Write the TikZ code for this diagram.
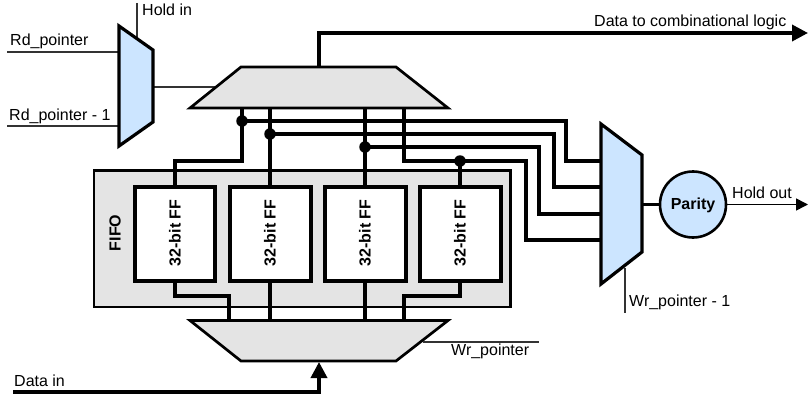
\documentclass[tikz,border=0pt]{standalone}
\usepackage{fontspec}
\setmainfont{Liberation Sans}
\usetikzlibrary{arrows.meta}
\definecolor{muxblue}{HTML}{CCE5FF}
\definecolor{pale}{HTML}{E4E4E4}
\tikzset{
  x=1pt,y=-1pt,
  thinw/.style={draw=black!80,line width=1.4pt},
  bus/.style={draw=black,line width=3.6pt},
  blk/.style={draw=black,line width=3.2pt,line join=miter},
  muxb/.style={blk,fill=muxblue},
  muxg/.style={draw=black,line width=2.7pt,line join=miter,fill=pale},
  ffbox/.style={draw=black,line width=4pt,fill=white,minimum width=80.5pt,minimum height=93.5pt,inner sep=0pt},
  lbl/.style={font=\fontsize{16pt}{18pt}\selectfont,inner sep=0pt},
  blbl/.style={font=\fontsize{16pt}{18pt}\selectfont\bfseries,inner sep=0pt},
  jdot/.style={circle,fill=black,inner sep=0pt,minimum size=11.5pt},
  bigtip/.style={-{Triangle[length=16pt,width=16pt]}},
}
\begin{document}
\begin{tikzpicture}
\useasboundingbox (0,0) rectangle (808,396);
% FIFO
\node[draw=black,line width=2.4pt,fill=pale,minimum width=416.6pt,minimum height=136.6pt,inner sep=0pt,outer sep=0pt] (fifo) at (302,238.8) {};
\node[blbl,rotate=90] (fifolbl) at (115,233) {FIFO};
% wires first so that the shapes cover their ends
\coordinate (rdA) at (7,52);
\coordinate (rdB) at (7,126);
\coordinate (hold) at (137,3);
\coordinate (muxrdA) at (119,52);
\coordinate (muxrdB) at (119,126);
\coordinate (muxrdH) at (137,38);
\coordinate (muxrdO) at (153,87);
\coordinate (muxtopI) at (216,87);
\draw[thinw] (rdA) -- (muxrdA);
\draw[thinw] (rdB) -- (muxrdB);
\draw[thinw] (hold) -- (muxrdH);
\draw[thinw] (muxrdO) -- (muxtopI);
% FF boxes
\node[ffbox] (ffa) at (175,233.8) {};
\node[ffbox] (ffb) at (270.5,233.8) {};
\node[ffbox] (ffc) at (365.5,233.8) {};
\node[ffbox] (ffd) at (460.5,233.8) {};
\foreach \n/\x in {ffa/175,ffb/270,ffc/365,ffd/460}{
  \node[blbl,rotate=90] (\n l) at (\x,233) {32-bit FF};
}
% junctions and tap coordinates
\coordinate (tapa) at (242,108);
\coordinate (tapb) at (270,108);
\coordinate (tapc) at (365,108);
\coordinate (tapd) at (404,108);
\node[jdot] (ja) at (242,121) {};
\node[jdot] (jb) at (270,134) {};
\node[jdot] (jc) at (365,147) {};
\node[jdot] (jd) at (460,161) {};
% read-side buses
\draw[bus,line join=miter] (tapa) -- (242,161) -- (175,161) -- (175,186);
\draw[bus] (tapb) -- (270,186);
\draw[bus] (tapc) -- (365,186);
\draw[bus,line join=miter] (tapd) -- (404,161) -- (526,161) -- (526,240) -- (601,240);
\draw[bus,line join=miter] (ja.center) -- (566,121) -- (566,161) -- (601,161);
\draw[bus,line join=miter] (jb.center) -- (554,134) -- (554,187) -- (601,187);
\draw[bus,line join=miter] (jc.center) -- (539,147) -- (539,214) -- (601,214);
\draw[bus] (jd.center) -- (460,186);
% write-side buses
\draw[bus,line join=miter] (175,281) -- (175,296) -- (229,296) -- (229,320);
\draw[bus] (270,281) -- (270,320);
\draw[bus] (365,281) -- (365,320);
\draw[bus,line join=miter] (460,281) -- (460,296) -- (404,296) -- (404,320);
% muxes
\draw[muxb] (119,26) -- (153,50) -- (153,122) -- (119,146) -- cycle;
\draw[muxg] (241,67) -- (396,67) -- (448,108) -- (190,108) -- cycle;
\draw[muxg] (190,320.5) -- (448,320.5) -- (396,361) -- (241,361) -- cycle;
\draw[muxb] (601,124) -- (642,155) -- (642,252) -- (601,284) -- cycle;
% parity
\node[circle,draw=black,line width=2.6pt,fill=muxblue,minimum size=66pt,inner sep=0pt,outer sep=0pt] (par) at (693,204.5) {};
\node[blbl] (parl) at (693,205) {Parity};
\draw[bus] (642,204.5) -- (par.west);
% output arrows
\coordinate (outtop) at (319,66);
\coordinate (outend) at (808,33);
\draw[bus,bigtip,line join=miter] (outtop) -- (319,33) -- (outend);
\coordinate (din) at (13,392);
\coordinate (dinend) at (319,362);
\draw[bus,bigtip,line join=miter] (din) -- (319,392) -- (dinend);
\coordinate (hout) at (808,204.5);
\draw[draw=black,line width=1.5pt,-{Triangle[length=12pt,width=12pt]}] (par.east) -- (hout);
% pointers
\coordinate (wrA) at (423,342);
\coordinate (wrB) at (539,342);
\draw[thinw] (wrA) -- (wrB);
\coordinate (wrmA) at (625,268);
\coordinate (wrmB) at (625,313);
\draw[thinw] (wrmA) -- (wrmB);
% labels
\node[lbl,anchor=base west] (t1) at (142,16) {Hold in};
\node[lbl,anchor=base west] (t2) at (10,46) {Rd\_pointer};
\node[lbl,anchor=base west] (t3) at (9,120) {Rd\_pointer - 1};
\node[lbl,anchor=base west] (t4) at (594,27) {Data to combinational logic};
\node[lbl,anchor=base west] (t5) at (732,198) {Hold out};
\node[lbl,anchor=base west] (t6) at (629,306) {Wr\_pointer - 1};
\node[lbl,anchor=base west] (t7) at (451,355) {Wr\_pointer};
\node[lbl,anchor=base west] (t8) at (14,386) {Data in};
\end{tikzpicture}
\end{document}
